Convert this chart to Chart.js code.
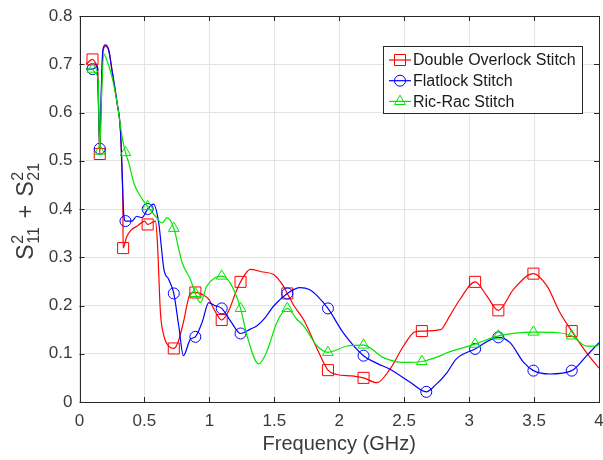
<!DOCTYPE html>
<html>
<head>
<meta charset="utf-8">
<script src="https://cdn.jsdelivr.net/npm/chart.js@4.4.1/dist/chart.umd.min.js"></script>
<style>
  html, body { margin: 0; padding: 0; background: #fff; }
</style>
</head>
<body>
<canvas id="chart" width="603" height="460"></canvas>
<script>
// axis ticks
const xTicks = [0, 0.5, 1, 1.5, 2, 2.5, 3, 3.5, 4];
const xTickLabels = ['0', '0.5', '1', '1.5', '2', '2.5', '3', '3.5', '4'];
const yTicks = [0, 0.1, 0.2, 0.3, 0.4, 0.5, 0.6, 0.7, 0.8];
const yTickLabels = ['0', '0.1', '0.2', '0.3', '0.4', '0.5', '0.6', '0.7', '0.8'];

const seriesNames = ['Double Overlock Stitch', 'Flatlock Stitch', 'Ric-Rac Stitch'];

// Double Overlock Stitch
const redX = [0.05, 0.10, 0.13, 0.14, 0.150, 0.156, 0.165, 0.18, 0.20, 0.225, 0.25, 0.29, 0.315, 0.328, 0.334, 0.336,
  0.36, 0.39, 0.45, 0.50, 0.525, 0.585, 0.60, 0.623, 0.65, 0.69, 0.726, 0.76, 0.80, 0.854, 0.892, 0.95, 0.995,
  1.04, 1.095, 1.15, 1.20, 1.24, 1.315, 1.40, 1.495, 1.57, 1.60, 1.65, 1.725, 1.83, 1.913, 1.98, 2.10, 2.187,
  2.29, 2.39, 2.495, 2.58, 2.636, 2.78, 2.85, 2.93, 3.046, 3.136, 3.225, 3.34, 3.495, 3.60, 3.70, 3.79, 3.905, 4.00];
const redY = [0.700, 0.710, 0.700, 0.690, 0.560, 0.514, 0.600, 0.725, 0.737, 0.729, 0.688, 0.619, 0.564, 0.470, 0.400, 0.319,
  0.340, 0.354, 0.366, 0.375, 0.368, 0.375, 0.330, 0.186, 0.137, 0.115, 0.111, 0.125, 0.165, 0.225, 0.227, 0.222, 0.213,
  0.190, 0.170, 0.190, 0.225, 0.249, 0.275, 0.270, 0.264, 0.240, 0.225, 0.200, 0.171, 0.110, 0.066, 0.057, 0.054, 0.050,
  0.040, 0.068, 0.116, 0.145, 0.147, 0.150, 0.178, 0.213, 0.249, 0.220, 0.190, 0.233, 0.266, 0.240, 0.185, 0.147, 0.102, 0.070];
const redMarks = [0.10, 0.156, 0.336, 0.525, 0.726, 0.892, 1.095, 1.24, 1.60, 1.913, 2.187, 2.636, 3.046, 3.225, 3.495, 3.79];

// Flatlock Stitch
const blueX = [0.05, 0.10, 0.136, 0.148, 0.156, 0.165, 0.18, 0.20, 0.225, 0.25, 0.29, 0.315, 0.328, 0.34, 0.354,
  0.405, 0.44, 0.48, 0.525, 0.57, 0.61, 0.65, 0.687, 0.726, 0.764, 0.80, 0.854, 0.892, 0.944, 0.995, 1.04, 1.095,
  1.17, 1.24, 1.315, 1.367, 1.43, 1.495, 1.60, 1.70, 1.77, 1.83, 1.913, 2.03, 2.187, 2.29, 2.39, 2.546, 2.67, 2.74,
  2.83, 2.90, 3.046, 3.225, 3.315, 3.42, 3.495, 3.62, 3.79, 3.905, 4.00];
const blueY = [0.690, 0.690, 0.695, 0.600, 0.525, 0.620, 0.730, 0.740, 0.729, 0.688, 0.619, 0.564, 0.481, 0.392, 0.375,
  0.375, 0.385, 0.382, 0.400, 0.410, 0.371, 0.275, 0.254, 0.225, 0.158, 0.096, 0.130, 0.135, 0.165, 0.206, 0.200, 0.194,
  0.165, 0.142, 0.151, 0.158, 0.175, 0.199, 0.225, 0.237, 0.233, 0.220, 0.194, 0.144, 0.096, 0.080, 0.068, 0.041, 0.021, 0.035,
  0.061, 0.089, 0.110, 0.134, 0.123, 0.082, 0.065, 0.058, 0.065, 0.096, 0.123];
const blueMarks = [0.10, 0.156, 0.354, 0.525, 0.726, 0.892, 1.095, 1.24, 1.60, 1.913, 2.187, 2.67, 3.046, 3.225, 3.495, 3.79];

// Ric-Rac Stitch
const greenX = [0.05, 0.10, 0.123, 0.144, 0.150, 0.156, 0.168, 0.187, 0.20, 0.25, 0.29, 0.328, 0.354, 0.38, 0.418,
  0.47, 0.525, 0.585, 0.636, 0.674, 0.726, 0.79, 0.854, 0.892, 0.93, 0.98, 1.046, 1.095, 1.16, 1.24, 1.29, 1.38,
  1.44, 1.52, 1.60, 1.675, 1.725, 1.83, 1.913, 2.06, 2.187, 2.34, 2.495, 2.636, 2.78, 2.83, 3.046, 3.225, 3.495,
  3.675, 3.79, 3.905, 3.98, 4.00];
const greenY = [0.690, 0.690, 0.681, 0.667, 0.580, 0.520, 0.620, 0.722, 0.716, 0.674, 0.619, 0.550, 0.517, 0.495, 0.454,
  0.426, 0.405, 0.385, 0.371, 0.382, 0.360, 0.289, 0.254, 0.225, 0.206, 0.240, 0.258, 0.261, 0.247, 0.194, 0.137, 0.079,
  0.103, 0.165, 0.194, 0.171, 0.158, 0.116, 0.103, 0.116, 0.118, 0.092, 0.082, 0.084, 0.096, 0.102, 0.120, 0.137, 0.145,
  0.144, 0.137, 0.116, 0.116, 0.120];
const greenMarks = [0.10, 0.156, 0.354, 0.525, 0.726, 0.892, 1.095, 1.24, 1.60, 1.913, 2.187, 2.636, 3.046, 3.225, 3.495, 3.79];

const family = "'Liberation Sans', Arial, Helvetica, sans-serif";
const axisColor = '#262626';
const textColor = '#3a3a3a';
const colors = ['#ff0000', '#0000ff', '#00e600'];
const styles = ['rect', 'circle', 'triangle'];
const radii = [7.8, 5.5, 6.2];

const toPoints = (xs, ys) => xs.map((x, i) => ({ x: x, y: ys[i] }));

function makeSet(i, xs, ys, marks) {
  return {
    label: seriesNames[i],
    data: toPoints(xs, ys),
    borderColor: colors[i],
    borderWidth: 1.2,
    cubicInterpolationMode: 'monotone',
    pointStyle: styles[i],
    pointRadius: (ctx) => marks.includes(xs[ctx.dataIndex]) ? radii[i] : 0,
    pointBorderColor: colors[i],
    pointBackgroundColor: 'rgba(0,0,0,0)',
    pointBorderWidth: 1,
    order: 3 - i,
  };
}

function marker(ctx, style, x, y, r) {
  ctx.beginPath();
  if (style === 'rect') {
    const s = Math.SQRT1_2 * r;
    ctx.rect(x - s, y - s, 2 * s, 2 * s);
  } else if (style === 'circle') {
    ctx.arc(x, y, r, 0, Math.PI * 2);
  } else {
    ctx.moveTo(x, y - r);
    ctx.lineTo(x + Math.sin(2 * Math.PI / 3) * r, y + r / 2);
    ctx.lineTo(x - Math.sin(2 * Math.PI / 3) * r, y + r / 2);
    ctx.closePath();
  }
  ctx.stroke();
}

const decorations = {
  id: 'decorations',
  afterDraw(chart) {
    const { ctx, chartArea: a, scales } = chart;
    const sx = scales.x, sy = scales.y;
    ctx.save();

    // box and inward tick marks
    ctx.strokeStyle = axisColor;
    ctx.lineWidth = 1;
    ctx.beginPath();
    xTicks.forEach(v => {
      const px = Math.round(sx.getPixelForValue(v)) + 0.5;
      ctx.moveTo(px, a.bottom); ctx.lineTo(px, a.bottom - 5);
      ctx.moveTo(px, a.top); ctx.lineTo(px, a.top + 5);
    });
    yTicks.forEach(v => {
      const py = Math.round(sy.getPixelForValue(v)) + 0.5;
      ctx.moveTo(a.left, py); ctx.lineTo(a.left + 5, py);
      ctx.moveTo(a.right, py); ctx.lineTo(a.right - 5, py);
    });
    ctx.stroke();
    ctx.strokeRect(Math.round(a.left) + 0.5, Math.round(a.top) + 0.5,
      Math.round(a.right) - Math.round(a.left), Math.round(a.bottom) - Math.round(a.top));

    // x axis title
    ctx.fillStyle = textColor;
    ctx.font = '20px ' + family;
    ctx.textAlign = 'center';
    ctx.textBaseline = 'middle';
    ctx.fillText('Frequency (GHz)', (a.left + a.right) / 2, 444);

    // y axis title: S_11^2 + S_21^2
    ctx.save();
    ctx.translate(26, (a.top + a.bottom) / 2 + 2);
    ctx.rotate(-Math.PI / 2);
    ctx.textAlign = 'left';
    ctx.textBaseline = 'alphabetic';
    const big = '23px ' + family, small = '16px ' + family;
    const parts = [['S'], ['2', '11'], [' + '], ['S'], ['2', '21']];
    const widths = parts.map(p => {
      if (p.length === 1) { ctx.font = big; return ctx.measureText(p[0]).width + (p[0] === ' + ' ? 4 : 0); }
      ctx.font = small;
      return Math.max(ctx.measureText(p[0]).width, ctx.measureText(p[1]).width) + 1;
    });
    let u = -widths.reduce((s, w) => s + w, 0) / 2;
    const base = 7;
    parts.forEach((p, i) => {
      if (p.length === 1) {
        ctx.font = big; ctx.fillText(p[0], u + (p[0] === ' + ' ? 2 : 0), base);
      } else {
        ctx.font = small;
        ctx.fillText(p[0], u + 0.5, base - 10);
        ctx.fillText(p[1], u + 0.5, base + 6);
      }
      u += widths[i];
    });
    ctx.restore();

    // legend
    const lx = 383.5, ly = 46.5, lw = 199, lh = 67;
    ctx.fillStyle = '#ffffff';
    ctx.fillRect(lx, ly, lw, lh);
    ctx.strokeStyle = axisColor;
    ctx.strokeRect(lx, ly, lw, lh);
    ctx.font = '16px ' + family;
    ctx.textAlign = 'left';
    ctx.textBaseline = 'middle';
    seriesNames.forEach((name, i) => {
      const y = 60 + i * 20.7;
      ctx.strokeStyle = colors[i];
      ctx.lineWidth = 1.2;
      ctx.beginPath();
      ctx.moveTo(389, y); ctx.lineTo(411, y);
      ctx.stroke();
      ctx.lineWidth = 1;
      marker(ctx, styles[i], 400, y, radii[i]);
      ctx.fillStyle = '#1a1a1a';
      ctx.fillText(name, 413, y + 1);
    });
    ctx.restore();
  }
};

new Chart(document.getElementById('chart'), {
  type: 'line',
  data: {
    datasets: [
      makeSet(0, redX, redY, redMarks),
      makeSet(1, blueX, blueY, blueMarks),
      makeSet(2, greenX, greenY, greenMarks),
    ],
  },
  options: {
    responsive: false,
    animation: false,
    events: [],
    layout: { padding: { left: 0, right: 4, top: 16, bottom: 0 } },
    scales: {
      x: {
        type: 'linear',
        min: 0,
        max: 4,
        afterBuildTicks: (s) => { s.ticks = xTicks.map(v => ({ value: v })); },
        afterFit: (s) => { s.height = 58; s.paddingLeft = 0; s.paddingRight = 0; },
        ticks: {
          callback: (v) => xTickLabels[xTicks.indexOf(v)],
          font: { family: family, size: 17 },
          color: textColor,
          padding: 9,
          maxRotation: 0,
        },
        grid: { color: '#e4e4e4', drawTicks: false },
        border: { display: false },
      },
      y: {
        type: 'linear',
        min: 0,
        max: 0.8,
        afterBuildTicks: (s) => { s.ticks = yTicks.map(v => ({ value: v })); },
        afterFit: (s) => { s.width = 79.5; s.paddingTop = 0; s.paddingBottom = 0; },
        ticks: {
          callback: (v) => yTickLabels[yTicks.indexOf(v)],
          font: { family: family, size: 17 },
          color: textColor,
          padding: 7,
        },
        grid: { color: '#e4e4e4', drawTicks: false },
        border: { display: false },
      },
    },
    plugins: {
      legend: { display: false },
      tooltip: { enabled: false },
    },
  },
  plugins: [decorations],
});
</script>
</body>
</html>
